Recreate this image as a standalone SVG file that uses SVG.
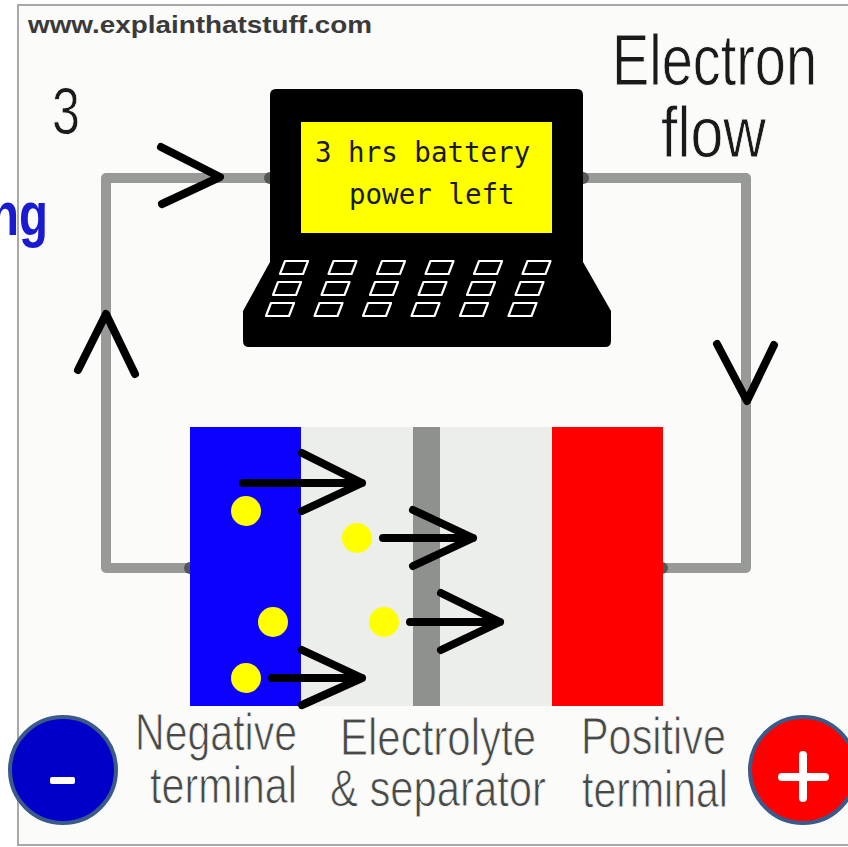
<svg xmlns="http://www.w3.org/2000/svg" xmlns:xlink="http://www.w3.org/1999/xlink" width="848" height="847" viewBox="0 0 848 847">
  <style>
    .wire { fill: none; stroke: #989a97; stroke-width: 10; stroke-linejoin: round; }
    .node-dot { fill: #555755; }
    .chev { fill: none; stroke: #000; stroke-width: 8; stroke-linecap: round; stroke-linejoin: round; }
    .key { fill: none; stroke: #fff; stroke-width: 2.2; stroke-linejoin: round; }
    .label { font-family: "Liberation Sans Narrow", "Liberation Sans", Arial, sans-serif; fill: #474947; stroke: #fbfbf9; stroke-width: 0.9; }
    .big { font-family: "Liberation Sans Narrow", "Liberation Sans", Arial, sans-serif; fill: #1a1a1a; stroke: #fbfbf9; stroke-width: 0.9; }
    .mono { font-family: "DejaVu Sans Mono", "Liberation Mono", monospace; font-size: 27.5px; fill: #1a1a1a; }
    .ion { fill: #ffff00; }
    .badge { stroke: #3a5a8a; stroke-width: 4; }
  </style>
  <defs>
    <path id="key" class="key" d="M0 0 L23 0 L28 -13 L5 -13 Z"/>
    <g id="keyrow">
      <use xlink:href="#key" x="0"/>
      <use xlink:href="#key" x="48.5"/>
      <use xlink:href="#key" x="97"/>
      <use xlink:href="#key" x="145.5"/>
      <use xlink:href="#key" x="194"/>
      <use xlink:href="#key" x="242.5"/>
    </g>
  </defs>

  <!-- page and frame (right edge runs past the canvas) -->
  <rect x="0" y="0" width="848" height="847" fill="#ffffff"/>
  <rect x="18" y="5" width="850" height="840" fill="#fbfbf9" stroke="#a8a8a8" stroke-width="2"/>

  <!-- clipped heading fragment at the far left -->
  <text x="-10" y="235" font-family="'Liberation Sans', Arial, sans-serif" font-weight="bold" font-size="62" fill="#1a1ad0" textLength="58" lengthAdjust="spacingAndGlyphs">ng</text>

  <text x="28" y="33" font-family="'Liberation Sans', Arial, sans-serif" font-weight="bold" font-size="24" fill="#3a3a3a" textLength="344" lengthAdjust="spacingAndGlyphs">www.explainthatstuff.com</text>

  <text class="big" x="52" y="134" font-size="66" textLength="28" lengthAdjust="spacingAndGlyphs">3</text>

  <g id="electron-flow-label">
    <text class="big" x="612" y="85" font-size="72" textLength="205" lengthAdjust="spacingAndGlyphs">Electron</text>
    <text class="big" x="661" y="157" font-size="72" textLength="105" lengthAdjust="spacingAndGlyphs">flow</text>
  </g>

  <!-- circuit wiring and flow arrows -->
  <g id="connectors">
    <path class="wire" d="M270 178 H106 V568 H190"/>
    <path class="wire" d="M583 178 H746 V568 H662"/>
    <circle class="node-dot" cx="270" cy="178" r="6"/>
    <circle class="node-dot" cx="583" cy="178" r="6"/>
    <circle class="node-dot" cx="190" cy="568" r="6"/>
    <circle class="node-dot" cx="662" cy="568" r="6"/>
    <polyline class="chev" points="161,147 220,177 162,204"/>
    <polyline class="chev" points="78,370 106,314 135,374"/>
    <polyline class="chev" points="717,344 747,401 774,345"/>
  </g>

  <!-- laptop -->
  <g id="laptop">
    <path d="M276 89 H577 Q583 89 583 95 V262 L611 311 V341 Q611 347 605 347 H249 Q243 347 243 341 V311 L270 262 V95 Q270 89 276 89 Z" fill="#000"/>
    <rect x="301" y="122" width="251" height="111" fill="#ffff00"/>
    <text class="mono" x="315" y="162">3 hrs battery</text>
    <text class="mono" x="349" y="204">power left</text>
    <use xlink:href="#keyrow" x="280" y="274"/>
    <use xlink:href="#keyrow" x="273" y="295"/>
    <use xlink:href="#keyrow" x="266" y="316"/>
  </g>

  <!-- battery cell -->
  <g id="battery">
    <rect id="negative-terminal" x="190" y="427" width="111" height="279" fill="#0c00ff"/>
    <rect id="electrolyte" x="301" y="427" width="251" height="279" fill="#eceeea"/>
    <rect id="separator" x="413" y="427" width="27" height="279" fill="#8f918e"/>
    <rect id="positive-terminal" x="552" y="427" width="111" height="279" fill="#ff0000"/>

    <circle class="ion" cx="246" cy="511" r="15"/>
    <circle class="ion" cx="357" cy="538" r="15"/>
    <circle class="ion" cx="273" cy="622" r="15"/>
    <circle class="ion" cx="384" cy="622" r="15"/>
    <circle class="ion" cx="246" cy="678" r="15"/>

    <g class="chev">
      <path d="M243 483 H362 M302 453 L362 483 L302 511"/>
      <path d="M383 538 H473 M413 510 L473 538 L413 566"/>
      <path d="M410 622 H500 M441 593 L500 622 L441 650"/>
      <path d="M272 678 H362 M302 650 L362 678 L302 705"/>
    </g>
  </g>

  <!-- part labels -->
  <g id="labels">
    <text class="label" x="135" y="750" font-size="52" textLength="162" lengthAdjust="spacingAndGlyphs">Negative</text>
    <text class="label" x="150" y="803" font-size="52" textLength="147" lengthAdjust="spacingAndGlyphs">terminal</text>
    <text class="label" x="340" y="755" font-size="52" textLength="196" lengthAdjust="spacingAndGlyphs">Electrolyte</text>
    <text class="label" x="330" y="806" font-size="52" textLength="216" lengthAdjust="spacingAndGlyphs">&amp; separator</text>
    <text class="label" x="581" y="754" font-size="52" textLength="145" lengthAdjust="spacingAndGlyphs">Positive</text>
    <text class="label" x="582" y="807" font-size="52" textLength="146" lengthAdjust="spacingAndGlyphs">terminal</text>
  </g>

  <!-- polarity badges -->
  <g id="minus-badge">
    <circle class="badge" cx="63" cy="770" r="53" fill="#0000c8"/>
    <rect x="50" y="777" width="25" height="7" rx="2" fill="#fff"/>
  </g>
  <g id="plus-badge">
    <circle class="badge" cx="803" cy="770" r="53" fill="#ff0000"/>
    <path d="M782 777 H825 M803 755 V798" stroke="#fff" stroke-width="8" stroke-linecap="round"/>
  </g>
</svg>
